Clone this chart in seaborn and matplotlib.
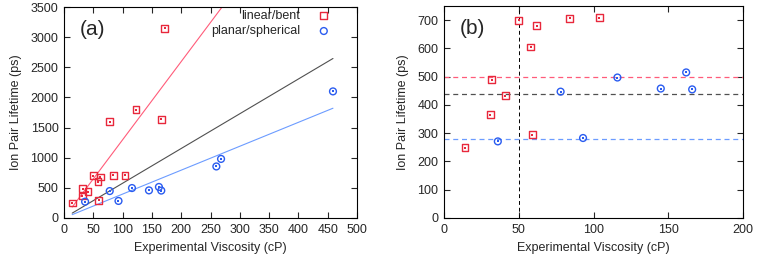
import numpy as np
import pandas as pd
import matplotlib
matplotlib.use("Agg")
import matplotlib.pyplot as plt
import seaborn as sns

# ================= DATA =================
# linear/bent anions
lin_visc = [14, 31, 32, 41, 50, 58, 59, 62, 78, 84, 104, 123, 166, 172]
lin_life = [249, 365, 489, 433, 700, 605, 295, 680, 1600, 706, 709, 1795, 1640, 3145]

# planar/spherical anions
pla_visc = [36, 78, 93, 116, 145, 162, 166, 260, 268, 459]
pla_life = [271, 447, 283, 497, 458, 515, 455, 855, 980, 2100]

# reference lines in panel (b)
hline_vals = [500, 440, 280]
vline_val = 50

RED = "#e8283c"
RED_LINE = "#ff5c7a"
BLUE = "#2a5cf0"
BLUE_LINE = "#6c9cff"
GREY = "#505050"

lin = pd.DataFrame({"visc": lin_visc, "life": lin_life})
pla = pd.DataFrame({"visc": pla_visc, "life": pla_life})
both = pd.concat([lin, pla])


def fit_origin(df):
    # least squares slope through the origin
    return (df.visc * df.life).sum() / (df.visc ** 2).sum()


sns.set_style("ticks")
plt.rcParams["font.family"] = ["Liberation Sans", "DejaVu Sans"]
FS = 9

fig = plt.figure(figsize=(7.57, 2.58), dpi=100)
ax_a = fig.add_axes([64 / 757, 1 - 218 / 258, 293 / 757, 211 / 258])
ax_b = fig.add_axes([444 / 757, 1 - 218 / 258, 299 / 757, 212 / 258])


def points(ax, df, marker, color, label=None):
    sns.scatterplot(data=df, x="visc", y="life", ax=ax, marker=marker, s=24,
                    facecolor="none", edgecolor=color, linewidth=1.0,
                    label=label, zorder=3)
    sns.scatterplot(data=df, x="visc", y="life", ax=ax, marker="s", s=2.5,
                    color=color, linewidth=0, legend=False, zorder=3)


# ================= PANEL (a) =================
xfit = np.array([both.visc.min(), both.visc.max()])
for df, col in [(lin, RED_LINE), (both, GREY), (pla, BLUE_LINE)]:
    ax_a.plot(xfit, fit_origin(df) * xfit, color=col, lw=0.8, zorder=2)

points(ax_a, lin, "s", RED, "linear/bent")
points(ax_a, pla, "o", BLUE, "planar/spherical")

ax_a.set_xlim(0, 500)
ax_a.set_ylim(0, 3500)
ax_a.set_xticks(np.arange(0, 501, 50))
ax_a.set_yticks(np.arange(0, 3501, 500))
ax_a.text(0.098, 0.895, "(a)", transform=ax_a.transAxes, fontsize=15,
          ha="center", va="center")
ax_a.legend(loc="upper right", frameon=False, markerfirst=False,
            handlelength=1.0, handletextpad=1.4, borderpad=0,
            borderaxespad=0, labelspacing=0.25, fontsize=FS,
            bbox_to_anchor=(0.908, 0.985))

# ================= PANEL (b) =================
for val, col in zip(hline_vals, [RED_LINE, GREY, BLUE_LINE]):
    ax_b.axhline(val, color=col, lw=0.9, ls=(0, (4, 3)), zorder=2)
ax_b.axvline(vline_val, color="black", lw=0.7, ls=(0, (4, 3)), zorder=2)

points(ax_b, lin, "s", RED)
points(ax_b, pla, "o", BLUE)

ax_b.set_xlim(0, 200)
ax_b.set_ylim(0, 750)
ax_b.set_xticks(np.arange(0, 201, 50))
ax_b.set_yticks(np.arange(0, 701, 100))
ax_b.text(0.096, 0.895, "(b)", transform=ax_b.transAxes, fontsize=15,
          ha="center", va="center")

for ax in (ax_a, ax_b):
    ax.set_xlabel("Experimental Viscosity (cP)", fontsize=FS, labelpad=5)
    ax.set_ylabel("Ion Pair Lifetime (ps)", fontsize=FS, labelpad=6)
    ax.tick_params(direction="in", length=4, width=0.8, top=True, right=True,
                   labelsize=FS, pad=4)
    for sp in ax.spines.values():
        sp.set_linewidth(0.8)
        sp.set_color("black")

fig.savefig("out.png", dpi=100)
